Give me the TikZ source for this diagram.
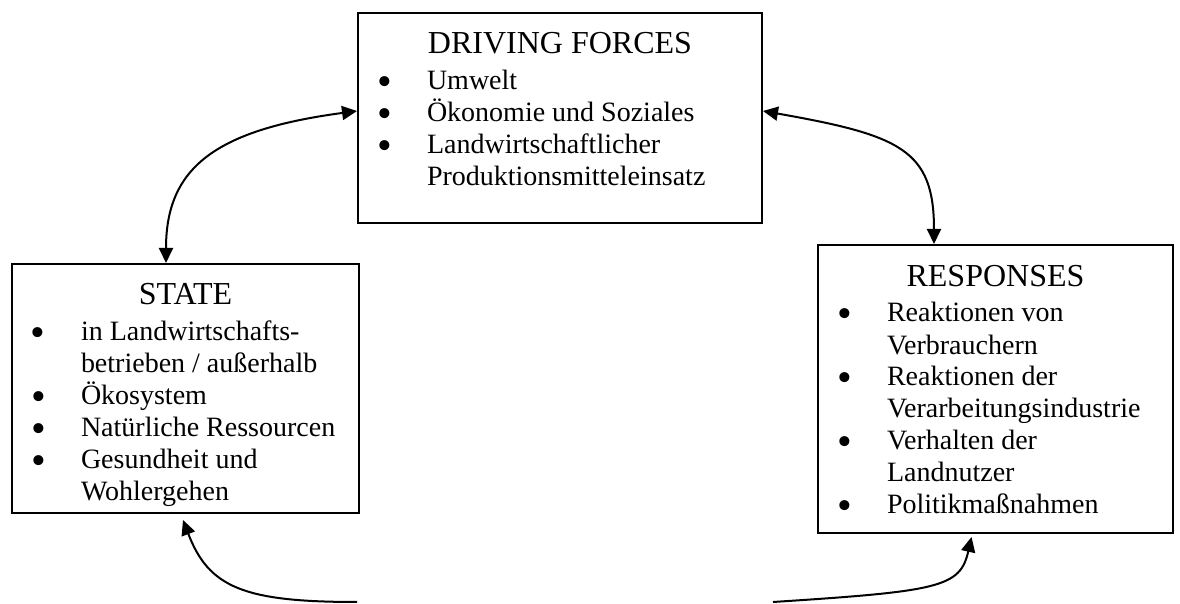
\documentclass[tikz,border=0pt]{standalone}
\usepackage{fontspec}
\setmainfont{Liberation Serif}
\usetikzlibrary{arrows.meta}

\newcommand{\kopf}[1]{\centering\fontsize{16}{16}\selectfont\rule{0pt}{20.5pt}#1\par\vspace{2pt}}
\newcommand{\punkt}[1]{\raggedright\fontsize{14}{16}\selectfont\hangindent=34.5pt\hangafter=1%
  \noindent\hspace*{9.5pt}\makebox[25pt][l]{\raisebox{-2.6pt}[0pt][0pt]{\fontsize{21}{16}\selectfont\textbullet}}#1\par}

\begin{document}
\begin{tikzpicture}[x=0.5pt,y=-0.5pt,
  kasten/.style={draw,line width=1pt,inner sep=0pt,anchor=north west},
  pfeil/.style={{Triangle[length=7.5pt,width=7pt]}-{Triangle[length=7.5pt,width=7pt]},line width=1pt},
  spitze/.style={-{Triangle[length=7.5pt,width=7pt]},line width=1pt}]
	\useasboundingbox (0,0) rectangle (1180,604);
	\node[kasten] (drv) at (357,12) {\parbox[c][105pt][t]{202pt}{\kopf{DRIVING FORCES}
		\punkt{Umwelt}
		\punkt{Ökonomie und Soziales}
		\punkt{Landwirtschaftlicher\newline Produktionsmitteleinsatz}}};
	\node[kasten] (st) at (11,263) {\parbox[c][124.5pt][t]{173.5pt}{\kopf{STATE}
		\punkt{in Landwirtschafts-\newline betrieben / außerhalb}
		\punkt{Ökosystem}
		\punkt{Natürliche Ressourcen}
		\punkt{Gesundheit und\newline Wohlergehen}}};
	\node[kasten] (rsp) at (817,244) {\parbox[c][144pt][t]{177.5pt}{\kopf{RESPONSES}
		\punkt{Reaktionen von\newline Verbrauchern}
		\punkt{Reaktionen der\newline Verarbeitungsindustrie}
		\punkt{Verhalten der\newline Landnutzer}
		\punkt{Politikmaßnahmen}}};
	\coordinate (pl) at (357,602);
	\coordinate (pr) at (773,602);
	\draw[pfeil] ([yshift=3.5pt]drv.west) .. controls +(187.6:72.5pt) and +(90:47pt) .. ([xshift=-9.75pt]st.north);
	\draw[pfeil] ([yshift=3.5pt]drv.east) .. controls +(350:70pt) and +(90:47pt) .. ([xshift=-30.75pt]rsp.north);
	\draw[spitze] (pl) .. controls +(180:57pt) and +(291:36pt) .. ([xshift=-1.25pt,yshift=-3pt]st.south);
	\draw[spitze] (pr) .. controls +(3.7:83.4pt) and +(257.3:25.8pt) .. ([xshift=-12pt,yshift=-1.5pt]rsp.south);
\end{tikzpicture}
\end{document}
